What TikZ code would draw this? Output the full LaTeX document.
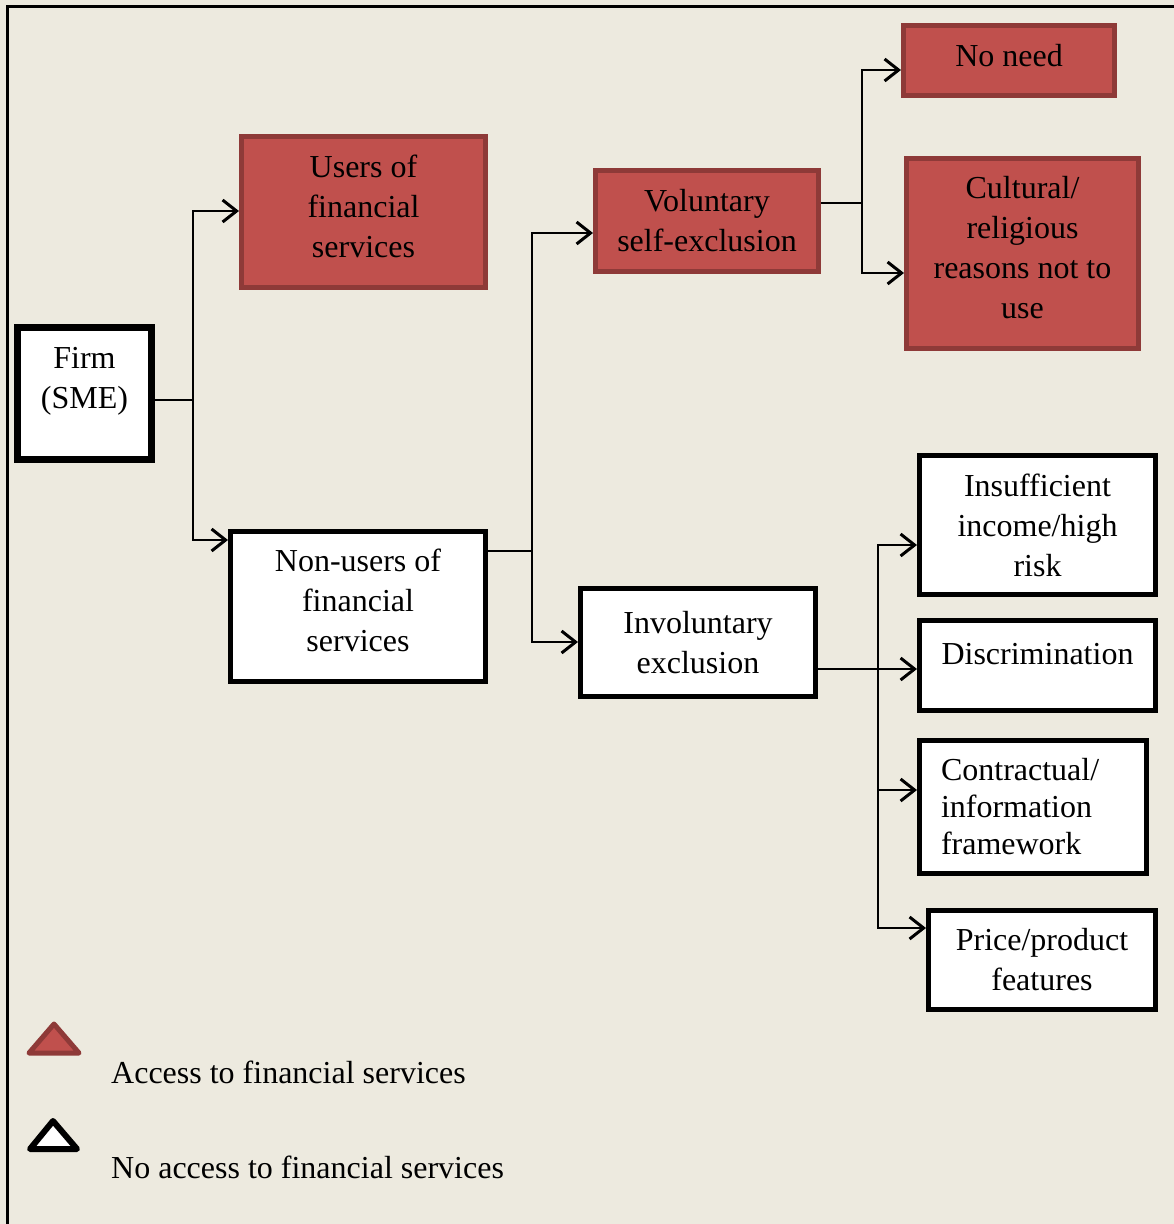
\documentclass[tikz,border=0pt]{standalone}
\usepackage{fontspec}
\setmainfont{Liberation Serif}
\usepackage{xcolor}
\usepackage{tikz}
\usetikzlibrary{arrows.meta,positioning}
\definecolor{fondo}{HTML}{EDEADF}
\definecolor{rojo}{HTML}{C0504D}
\definecolor{rojooscuro}{HTML}{8E3A38}
\newcommand{\arriba}[2]{\raisebox{0pt}[\height][\dimexpr\depth+#1\relax]{\begin{tabular}{@{}c@{}}#2\end{tabular}}}
\tikzset{
  caja/.style={draw=black,fill=white,line width=5pt,align=center,inner sep=2pt,font=\fontsize{32}{40}\selectfont},
  cajaroja/.style={caja,draw=rojooscuro,fill=rojo},
  linea/.style={draw=black,line width=2pt},
  flecha/.style={linea,-{Straight Barb[length=14pt,width=22pt,line width=3pt]}},
  leyenda/.style={font=\fontsize{32}{40}\selectfont,anchor=base west,inner sep=0pt},
}
\begin{document}
\begin{tikzpicture}[x=1pt,y=-1pt]
  \fill[fondo] (0,0) rectangle (1174,1224);
  \useasboundingbox (0,0) rectangle (1174,1224);
  \draw[line width=3pt] (7,1224) -- (7,6) -- (1174,6);
  % cajas
  \node[caja,line width=7pt,minimum width=134pt,minimum height=132pt] (firm) at (84.5,393.5) {\arriba{26pt}{Firm\\(SME)}};
  \node[cajaroja,minimum width=244pt,minimum height=151pt] (users) at (363.5,212) {\arriba{6pt}{Users of\\financial\\services}};
  \node[caja,minimum width=255pt,minimum height=150pt] (nonusers) at (358,606.5) {\arriba{6pt}{Non-users of\\financial\\services}};
  \node[cajaroja,minimum width=223pt,minimum height=101pt] (voluntary) at (707,221) {Voluntary\\self-exclusion};
  \node[caja,minimum width=235pt,minimum height=108pt] (involuntary) at (698,642.5) {Involuntary\\exclusion};
  \node[cajaroja,minimum width=211pt,minimum height=70pt] (noneed) at (1009,60.5) {\arriba{4pt}{No need}};
  \node[cajaroja,minimum width=232pt,minimum height=190pt] (cultural) at (1022.5,253.5) {\arriba{6pt}{Cultural/\\religious\\reasons not to\\use}};
  \node[caja,minimum width=236pt,minimum height=139pt] (insufficient) at (1037.5,525) {Insufficient\\income/high\\risk};
  \node[caja,minimum width=236pt,minimum height=90pt,text depth=24pt] (discrimination) at (1037.5,665.5) {Discrimination};
  \node[caja,minimum width=227pt,minimum height=133pt,align=left,text width=184pt,inner xsep=21.5pt,font=\fontsize{32}{37}\selectfont] (contractual) at (1033,807) {Contractual/\\information\\framework};
  \node[caja,minimum width=227pt,minimum height=99pt] (price) at (1042,960) {Price/product\\features};
  % conectores
  \coordinate (j1) at (193,400);
  \coordinate (j1a) at (193,211);
  \coordinate (j1b) at (193,540);
  \draw[linea] (firm.east |- j1) -- (j1);
  \draw[flecha] (j1) -- (j1a) -- (users.west |- j1a);
  \draw[flecha] (j1) -- (j1b) -- (nonusers.west |- j1b);
  \coordinate (j2) at (532,551);
  \coordinate (j2a) at (532,233);
  \coordinate (j2b) at (532,642);
  \draw[linea] (nonusers.east |- j2) -- (j2);
  \draw[flecha] (j2) -- (j2a) -- (voluntary.west |- j2a);
  \draw[flecha] (j2) -- (j2b) -- (involuntary.west |- j2b);
  \coordinate (j3) at (862,203);
  \coordinate (j3a) at (862,70);
  \coordinate (j3b) at (862,273);
  \draw[linea] (voluntary.east |- j3) -- (j3);
  \draw[flecha] (j3) -- (j3a) -- (noneed.west |- j3a);
  \draw[flecha] (j3) -- (j3b) -- (cultural.west |- j3b);
  \coordinate (j4) at (878,669);
  \coordinate (j4a) at (878,545);
  \coordinate (j4c) at (878,790);
  \coordinate (j4d) at (878,928);
  \draw[flecha] (involuntary.east |- j4) -- (discrimination.west |- j4);
  \draw[flecha] (j4) -- (j4a) -- (insufficient.west |- j4a);
  \draw[flecha] (j4) -- (j4c) -- (contractual.west |- j4c);
  \draw[flecha] (j4c) -- (j4d) -- (price.west |- j4d);
  % leyenda
  \draw[line width=5pt,line join=round,draw=rojooscuro,fill=rojo] (29,1053) -- (79,1053) -- (54,1024) -- cycle;
  \node[leyenda] (acceso) at (111,1083) {Access to financial services};
  \draw[line width=6pt,line join=round,draw=black,fill=white] (30,1149) -- (77,1149) -- (53,1121) -- cycle;
  \node[leyenda] (sinacceso) at (111,1178) {No access to financial services};
\end{tikzpicture}
\end{document}
